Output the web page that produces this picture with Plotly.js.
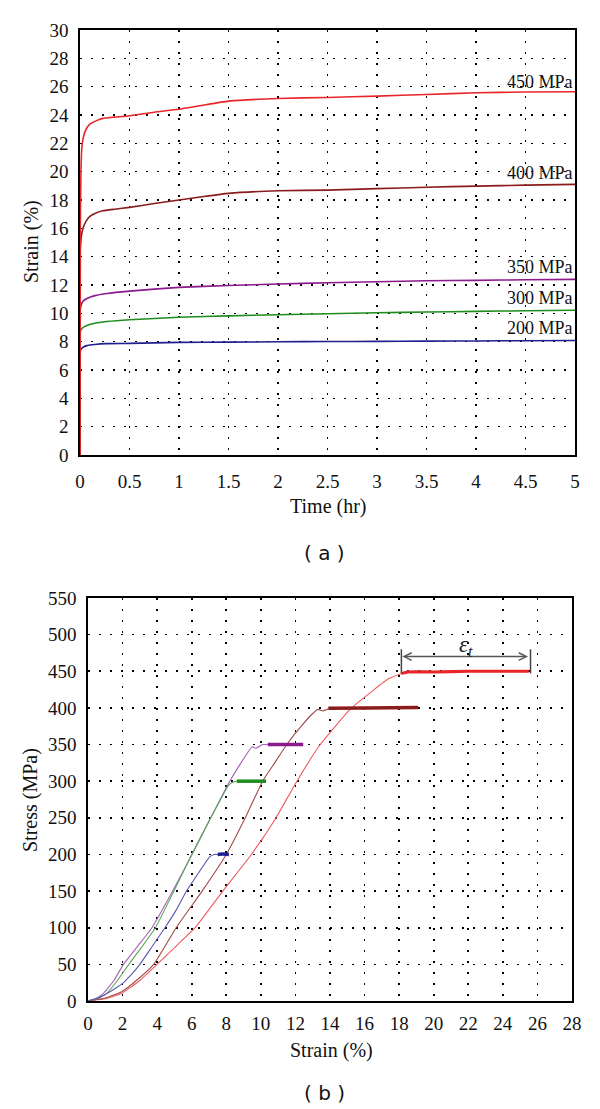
<!DOCTYPE html>
<html>
<head>
<meta charset="utf-8">
<script src="https://cdn.plot.ly/plotly-3.0.1.min.js"></script>
<style>html,body{margin:0;padding:0;background:#fff;}#chart{width:600px;height:1109px;}</style>
</head>
<body>
<div id="chart"></div>
<script>
// ---------- (a) creep curves: strain (%) vs time (hr) ----------
const time_short = [0, 0.005, 0.03, 0.07, 0.15, 0.27, 0.5, 1.0, 1.5, 2.0, 2.5, 3.0, 3.5, 4.0, 4.5, 5.0];
const strain_200 = [0, 7.4, 7.6, 7.72, 7.8, 7.86, 7.88, 7.95, 7.97, 7.99, 8.01, 8.02, 8.04, 8.05, 8.07, 8.08];
const strain_300 = [0, 8.75, 9.0, 9.15, 9.3, 9.42, 9.55, 9.72, 9.82, 9.9, 9.97, 10.04, 10.09, 10.14, 10.18, 10.22];
const strain_350 = [0, 10.4, 10.85, 11.05, 11.25, 11.4, 11.57, 11.83, 11.97, 12.07, 12.16, 12.23, 12.3, 12.33, 12.37, 12.4];
const time_long = [0, 0.003, 0.01, 0.02, 0.04, 0.07, 0.1, 0.15, 0.23, 0.35, 0.5, 0.75, 1.0, 1.25, 1.5, 2.0, 2.5, 3.0, 3.5, 4.0, 4.5, 5.0];
const strain_400 = [0, 14.5, 15.2, 15.7, 16.2, 16.6, 16.85, 17.05, 17.24, 17.35, 17.48, 17.75, 18.0, 18.25, 18.47, 18.65, 18.7, 18.8, 18.9, 18.98, 19.05, 19.1];
const strain_450 = [0, 16.0, 20.2, 21.8, 22.6, 23.1, 23.35, 23.55, 23.76, 23.85, 23.95, 24.2, 24.4, 24.7, 24.98, 25.17, 25.24, 25.33, 25.45, 25.57, 25.62, 25.64];
const curve_labels = ['200 MPa', '300 MPa', '350 MPa', '400 MPa', '450 MPa'];
const label_y = [9.0, 11.06, 13.3, 19.9, 26.3];

// ---------- (b) stress (MPa) vs strain (%) ----------
const load200_strain = [0, 0.5, 1.0, 1.5, 2.0, 2.5, 3.0, 3.7, 4.45, 5.1, 5.7, 6.4, 7.05, 7.3, 7.5];
const load200_stress = [0, 3, 9, 16, 24, 36, 50, 74, 100, 124, 150, 175, 197, 200, 200];
const hold200_strain = [7.5, 7.8, 8.15];
const hold200_stress = [200, 200.5, 200];

const load300_strain = [0, 0.5, 1.08, 1.7, 2.36, 3.15, 3.9, 4.97, 6.0, 7.1, 8.15, 8.4, 8.6];
const load300_stress = [0, 3, 10.5, 28, 50, 75, 100, 150, 200, 250, 295, 299, 300];
const hold300_strain = [8.6, 9.5, 10.3];
const hold300_stress = [300, 300, 300];

const load350_strain = [0, 0.4, 0.89, 1.5, 2.05, 2.88, 3.7, 4.9, 6.02, 7.1, 8.2, 9.5, 9.7, 10.1, 10.4];
const load350_stress = [0, 3, 10.5, 28, 50, 75, 100, 150, 200, 250, 300, 347, 345, 350, 350];
const hold350_strain = [10.4, 11.5, 12.45];
const hold350_stress = [350, 350, 350];

const load400_strain = [0, 1.0, 1.95, 2.9, 3.8, 5.1, 6.6, 8.0, 9.1, 10.1, 10.8, 11.5, 12.3, 12.9, 13.3, 13.6, 13.9];
const load400_stress = [0, 4, 12.7, 30, 50, 100, 150, 200, 250, 300, 325, 350, 374, 390, 398, 396, 399];
const hold400_strain = [13.9, 16.0, 19.1];
const hold400_stress = [399.5, 400, 400.5];

const load450_strain = [0, 1.0, 1.95, 3.0, 4.0, 5.1, 6.2, 7.8, 9.45, 10.8, 12.06, 13.4, 15.2, 16.5, 17.4, 18.13];
const load450_stress = [0, 3, 10.5, 28, 50, 75, 100, 150, 200, 247, 299, 349, 399, 424, 440, 447];
const hold450_strain = [18.13, 18.5, 20, 22, 25.5];
const hold450_stress = [447, 449, 449, 450, 450];

const eps_start = 18.13, eps_end = 25.6, eps_level = 470, eps_bar = [447, 480];

const colors = {c200: '#1f1f8f', c300: '#1e8c1e', c350: '#8c1a8c', c400: '#8b1c1c', c450: '#e8262a'};
const serif = '"Liberation Serif", serif';

function line(x, y, color, width, xa, ya) {
  return {x: x, y: y, type: 'scatter', mode: 'lines', line: {color: color, width: width, shape: 'spline', smoothing: 0.4}, xaxis: xa, yaxis: ya, hoverinfo: 'skip', showlegend: false};
}

const traces = [
  line(time_short, strain_200, colors.c200, 1.6, 'x', 'y'),
  line(time_short, strain_300, colors.c300, 1.6, 'x', 'y'),
  line(time_short, strain_350, colors.c350, 1.6, 'x', 'y'),
  line(time_long, strain_400, colors.c400, 1.6, 'x', 'y'),
  line(time_long, strain_450, colors.c450, 1.6, 'x', 'y'),
  line(load450_strain, load450_stress, '#ee5a5a', 1.1, 'x2', 'y2'),
  line(load400_strain, load400_stress, '#a04a4a', 1.1, 'x2', 'y2'),
  line(load350_strain, load350_stress, '#a860b8', 1.1, 'x2', 'y2'),
  line(load300_strain, load300_stress, '#58a858', 1.1, 'x2', 'y2'),
  line(load200_strain, load200_stress, '#5a5ab0', 1.1, 'x2', 'y2'),
  line(hold200_strain, hold200_stress, colors.c200, 3.5, 'x2', 'y2'),
  line(hold300_strain, hold300_stress, colors.c300, 3.5, 'x2', 'y2'),
  line(hold350_strain, hold350_stress, colors.c350, 3.5, 'x2', 'y2'),
  line(hold400_strain, hold400_stress, colors.c400, 3.5, 'x2', 'y2'),
  line(hold450_strain, hold450_stress, colors.c450, 3.2, 'x2', 'y2')
];

function axis(extra) {
  return Object.assign({
    showline: true, mirror: true, linecolor: '#000', linewidth: 1.6,
    showgrid: true, gridcolor: '#000', gridwidth: 1.6, griddash: '2px,9px',
    zeroline: false, ticks: '', automargin: false, fixedrange: true,
    tickfont: {family: serif, size: 19, color: '#111'}
  }, extra);
}

const W = 600, H = 1109;
const px = v => v / W, py = v => 1 - v / H;

const annotations = [];
curve_labels.forEach((t, i) => annotations.push({
  xref: 'x', yref: 'y', x: 5, y: label_y[i], text: t, showarrow: false,
  xanchor: 'right', yanchor: 'middle', font: {family: serif, size: 18, color: '#111'}
}));
annotations.push(
  {xref: 'paper', yref: 'paper', x: px(328), y: py(507), text: 'Time (hr)', showarrow: false, xanchor: 'center', yanchor: 'middle', font: {family: serif, size: 20, color: '#111'}},
  {xref: 'paper', yref: 'paper', x: px(31), y: py(242), text: 'Strain (%)', textangle: -90, showarrow: false, xanchor: 'center', yanchor: 'middle', font: {family: serif, size: 20, color: '#111'}},
  {xref: 'paper', yref: 'paper', x: px(324), y: py(553), text: '( a )', showarrow: false, xanchor: 'center', yanchor: 'middle', font: {family: '"DejaVu Sans", sans-serif', size: 20, color: '#111'}},
  {xref: 'paper', yref: 'paper', x: px(331), y: py(1050), text: 'Strain (%)', showarrow: false, xanchor: 'center', yanchor: 'middle', font: {family: serif, size: 20, color: '#111'}},
  {xref: 'paper', yref: 'paper', x: px(30), y: py(800), text: 'Stress (MPa)', textangle: -90, showarrow: false, xanchor: 'center', yanchor: 'middle', font: {family: serif, size: 20, color: '#111'}},
  {xref: 'paper', yref: 'paper', x: px(324), y: py(1093), text: '( b )', showarrow: false, xanchor: 'center', yanchor: 'middle', font: {family: '"DejaVu Sans", sans-serif', size: 20, color: '#111'}},
  {xref: 'x2', yref: 'y2', x: eps_start, y: eps_level, ax: eps_end, ay: eps_level, axref: 'x2', ayref: 'y2',
   text: '', showarrow: true, arrowside: 'end+start', arrowhead: 5, startarrowhead: 5, arrowsize: 1, startarrowsize: 1,
   arrowwidth: 1.5, arrowcolor: '#555', standoff: 1, startstandoff: 1},
  {xref: 'x2', yref: 'y2', x: (eps_start + eps_end) / 2, y: eps_level + 15, text: '<i>ε<sub>t</sub></i>', showarrow: false,
   xanchor: 'center', yanchor: 'middle', font: {family: serif, size: 23, color: '#222'}}
);

const shapes = [eps_start, eps_end].map(xv => ({
  type: 'line', xref: 'x2', yref: 'y2', x0: xv, x1: xv, y0: eps_bar[0], y1: eps_bar[1],
  line: {color: '#444', width: 1.5}
}));

const layout = {
  width: W, height: H, margin: {l: 0, r: 0, t: 0, b: 0},
  paper_bgcolor: '#fff', plot_bgcolor: '#fff', showlegend: false,
  xaxis: axis({domain: [px(80), px(575)], range: [0, 5], dtick: 0.5, tick0: 0, anchor: 'y', ticklabelstandoff: 9}),
  yaxis: axis({domain: [py(455), py(30)], range: [0, 30], dtick: 2, tick0: 0, anchor: 'x', ticklabelstandoff: 6}),
  xaxis2: axis({domain: [px(88), px(572)], range: [0, 28], dtick: 2, tick0: 0, anchor: 'y2', ticklabelstandoff: 5}),
  yaxis2: axis({domain: [py(1001), py(598)], range: [0, 550], dtick: 50, tick0: 0, anchor: 'x2', ticklabelstandoff: 6}),
  annotations: annotations,
  shapes: shapes
};

Plotly.newPlot('chart', traces, layout, {staticPlot: true, displayModeBar: false});
</script>
</body>
</html>
